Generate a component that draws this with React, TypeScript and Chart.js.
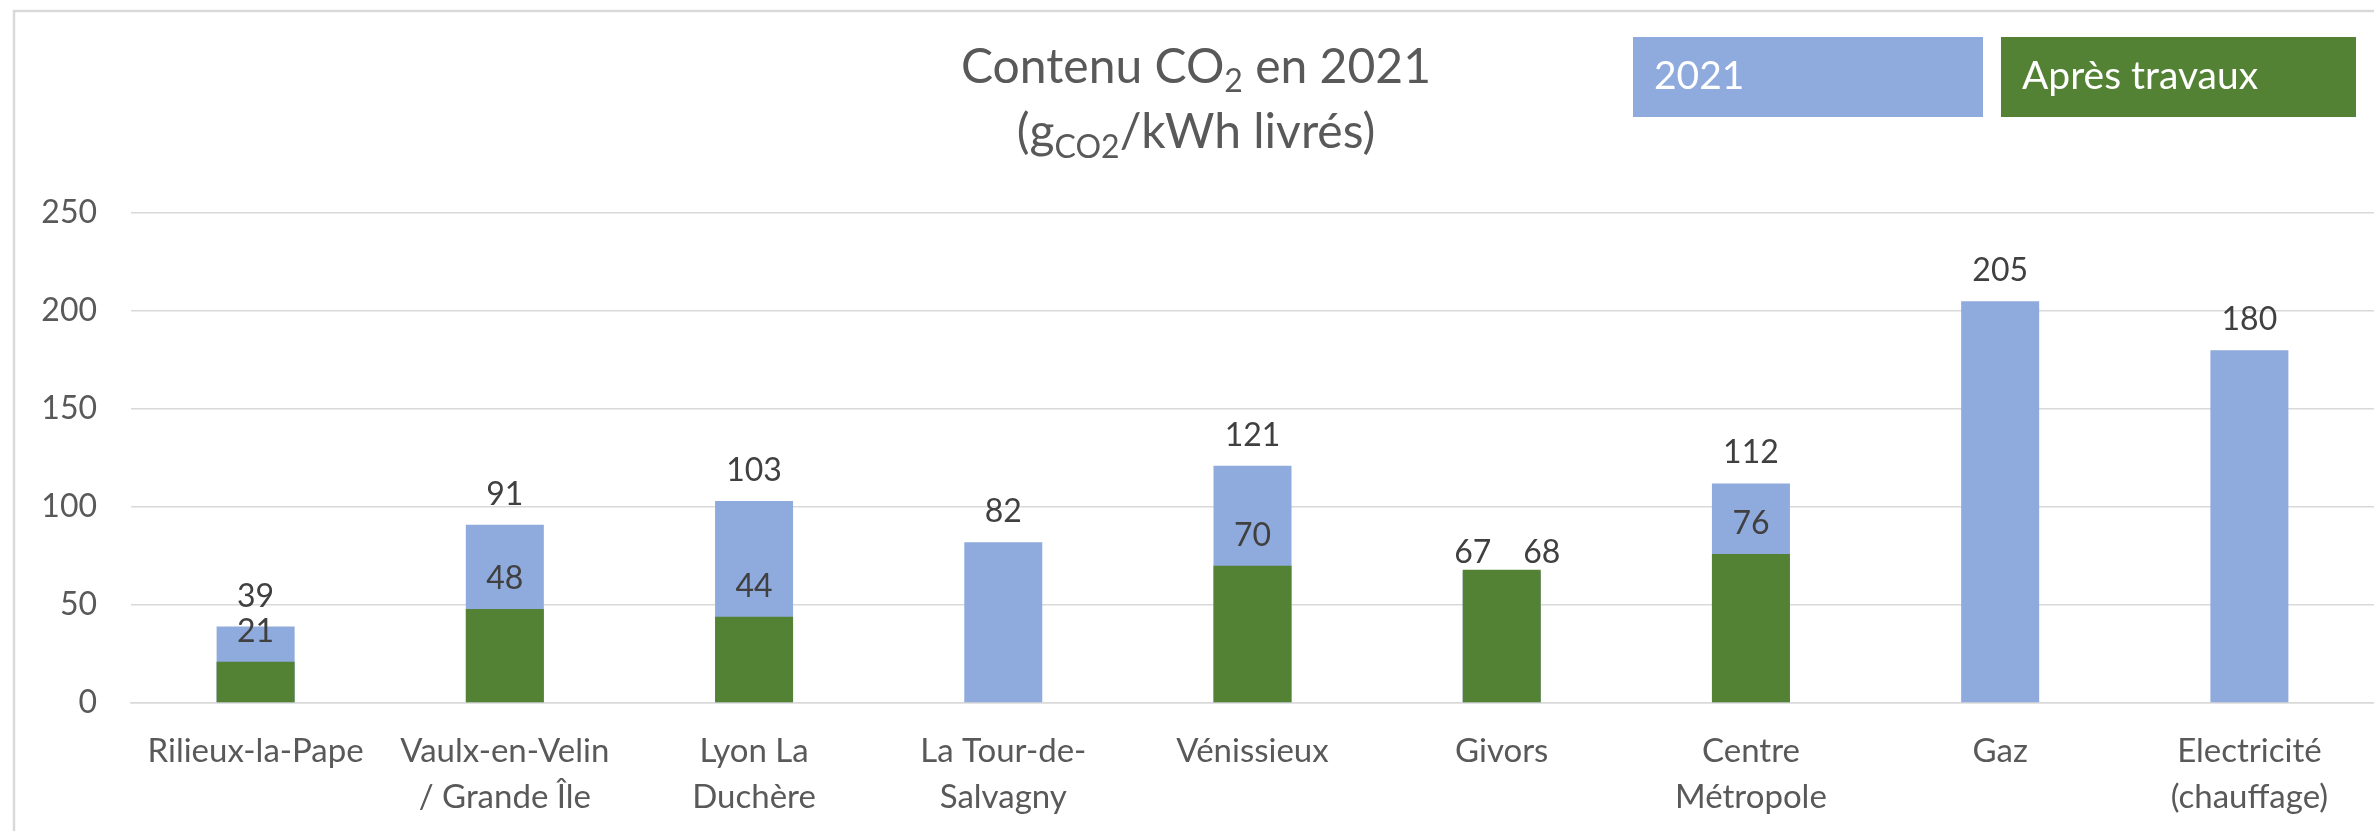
import React, { useEffect, useRef } from "react";
import { Chart, registerables } from "chart.js";

Chart.register(...registerables);

// ---- Data ----
const categories: string[][] = [
  ["Rilieux-la-Pape"],
  ["Vaulx-en-Velin", "/ Grande Île"],
  ["Lyon La", "Duchère"],
  ["La Tour-de-", "Salvagny"],
  ["Vénissieux"],
  ["Givors"],
  ["Centre", "Métropole"],
  ["Gaz"],
  ["Electricité", "(chauffage)"],
];
const values2021: (number | null)[] = [39, 91, 103, 82, 121, 67, 112, 205, 180];
const valuesApres: (number | null)[] = [21, 48, 44, null, 70, 68, 76, null, null];
const seriesNames = ["2021", "Après travaux"];
const yMin = 0;
const yMax = 250;
const yStep = 50;
const titleLine1 = [
  { t: "Contenu CO", sub: false },
  { t: "2", sub: true },
  { t: " en 2021", sub: false },
];
const titleLine2 = [
  { t: "(g", sub: false },
  { t: "CO2", sub: true },
  { t: "/kWh livrés)", sub: false },
];

// ---- Styles ----
const FONT = "Lato, 'Open Sans', 'DejaVu Sans', sans-serif";
const BLUE = "#8FAADC";
const GREEN = "#548235";
const AXIS_TEXT = "#595959";
const LABEL_TEXT = "#404040";
const GRID = "#d9d9d9";

const decorPlugin = {
  id: "decor",
  beforeDraw(chart: any) {
    const ctx = chart.ctx;
    ctx.save();
    ctx.fillStyle = "#ffffff";
    ctx.fillRect(0, 0, chart.width, chart.height);
    ctx.strokeStyle = GRID;
    ctx.lineWidth = 2.5;
    ctx.beginPath();
    ctx.moveTo(14, chart.height + 5);
    ctx.lineTo(14, 11);
    ctx.lineTo(chart.width + 5, 11);
    ctx.stroke();
    ctx.restore();
  },
  afterDraw(chart: any) {
    const ctx = chart.ctx;
    ctx.save();
    const cx = 1196;
    const drawRich = (parts: any[], baseline: number, size: number, subSize: number, subDrop: number) => {
      let total = 0;
      const widths = parts.map((p) => {
        ctx.font = `${p.sub ? subSize : size}px ${FONT}`;
        const w = ctx.measureText(p.t).width;
        total += w;
        return w;
      });
      let x = cx - total / 2;
      ctx.fillStyle = AXIS_TEXT;
      ctx.textAlign = "left";
      ctx.textBaseline = "alphabetic";
      parts.forEach((p, i) => {
        ctx.font = `${p.sub ? subSize : size}px ${FONT}`;
        ctx.fillText(p.t, x, baseline + (p.sub ? subDrop : 0));
        x += widths[i];
      });
    };
    drawRich(titleLine1, 83, 48, 32, 9);
    drawRich(titleLine2, 148, 48, 32, 10);

    const boxes = [
      { x: 1633, w: 350, color: BLUE, label: chart.data.datasets[0].label },
      { x: 2001, w: 355, color: GREEN, label: chart.data.datasets[1].label },
    ];
    boxes.forEach((b) => {
      ctx.fillStyle = b.color;
      ctx.fillRect(b.x, 37, b.w, 80);
      ctx.fillStyle = "#ffffff";
      ctx.font = `39px ${FONT}`;
      ctx.textAlign = "left";
      ctx.textBaseline = "alphabetic";
      ctx.fillText(b.label, b.x + 21, 89);
    });

    const m0 = chart.getDatasetMeta(0);
    const m1 = chart.getDatasetMeta(1);
    const d0 = chart.data.datasets[0].data;
    const d1 = chart.data.datasets[1].data;
    ctx.font = `32px ${FONT}`;
    ctx.fillStyle = LABEL_TEXT;
    ctx.textAlign = "center";
    ctx.textBaseline = "alphabetic";
    for (let i = 0; i < d0.length; i++) {
      const v0 = d0[i];
      const v1 = d1[i];
      const e0 = m0.data[i];
      const e1 = m1.data[i];
      if (v0 != null && v1 != null && Math.abs(v0 - v1) <= 2) {
        const top = Math.min(e0.y, e1.y);
        ctx.fillText(String(v0), e0.x - 29, top - 7);
        ctx.fillText(String(v1), e1.x + 40, top - 7);
        continue;
      }
      if (v0 != null) ctx.fillText(String(v0), e0.x, e0.y - 20);
      if (v1 != null) ctx.fillText(String(v1), e1.x, e1.y - 20);
    }
    ctx.restore();
  },
};

export default function App() {
  const ref = useRef<HTMLCanvasElement | null>(null);
  useEffect(() => {
    if (!ref.current) return;
    const chart = new Chart(ref.current, {
      type: "bar",
      data: {
        labels: categories,
        datasets: [
          {
            label: seriesNames[0],
            data: values2021,
            backgroundColor: BLUE,
            order: 1,
            categoryPercentage: 0.313,
            barPercentage: 1,
          },
          {
            label: seriesNames[1],
            data: valuesApres,
            backgroundColor: GREEN,
            order: 0,
            categoryPercentage: 0.313,
            barPercentage: 1,
          },
        ],
      },
      options: {
        responsive: false,
        animation: false,
        devicePixelRatio: 1,
        layout: { padding: { top: 213, left: 0, right: 0, bottom: 0 } },
        plugins: {
          legend: { display: false },
          title: { display: false },
          tooltip: { enabled: false },
        },
        scales: {
          x: {
            stacked: true,
            grid: { display: false, drawTicks: false },
            border: { display: true, color: GRID, width: 1.5 },
            ticks: {
              color: AXIS_TEXT,
              font: { family: FONT, size: 33, lineHeight: 1.41 },
              padding: 25,
              maxRotation: 0,
              autoSkip: false,
            },
            afterFit(scale: any) {
              scale.height = 128;
            },
          },
          y: {
            stacked: false,
            min: yMin,
            max: yMax,
            grid: { color: GRID, lineWidth: 1.5, drawTicks: false },
            border: { display: false },
            ticks: {
              stepSize: yStep,
              color: AXIS_TEXT,
              font: { family: FONT, size: 32 },
              padding: 34,
            },
            afterFit(scale: any) {
              scale.width = 131;
            },
          },
        },
      },
      plugins: [decorPlugin],
    });
    if ((document as any).fonts && (document as any).fonts.ready) {
      (document as any).fonts.ready.then(() => chart.update());
    }
    return () => chart.destroy();
  }, []);
  return (
    <div style={{ position: "absolute", left: 0, top: 0, width: 2374, height: 831 }}>
      <canvas ref={ref} width={2374} height={831} style={{ width: 2374, height: 831 }} />
    </div>
  );
}
